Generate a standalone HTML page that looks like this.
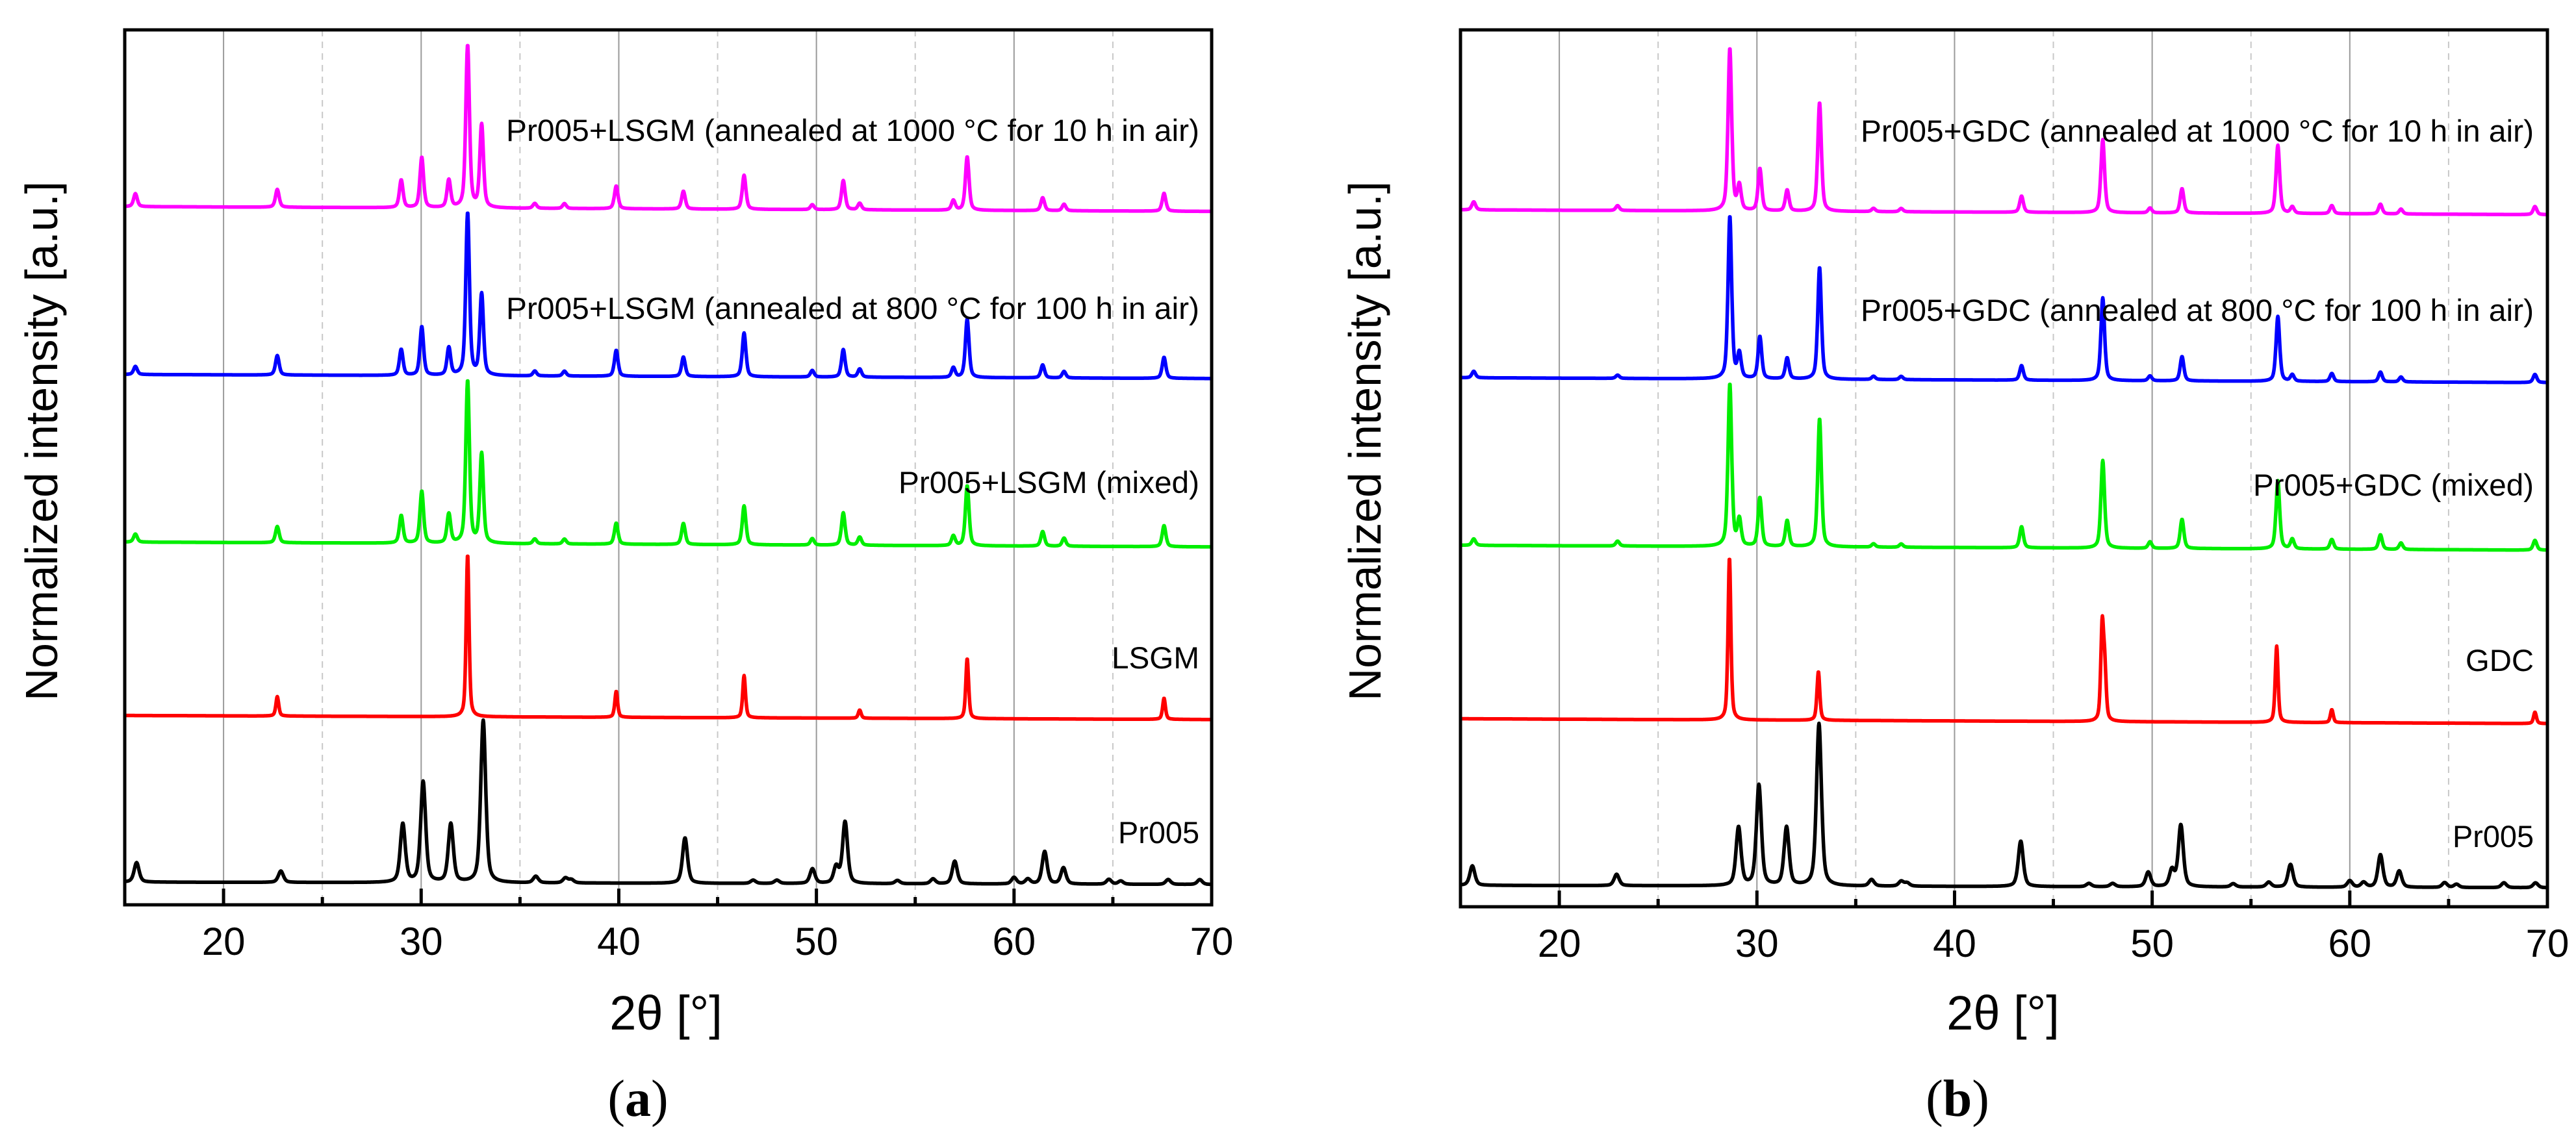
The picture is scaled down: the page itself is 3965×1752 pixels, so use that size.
<!DOCTYPE html>
<html><head><meta charset="utf-8"><style>
html,body{margin:0;padding:0;background:#fff;}
svg{display:block;font-family:"Liberation Sans",sans-serif;}
</style></head><body>
<svg id="fig" width="3965" height="1752" viewBox="0 0 3965 1752" xmlns="http://www.w3.org/2000/svg"></svg>
<script>
// ---- data ----
const xTicks = [20,30,40,50,60,70];
const xMinor = [25,35,45,55,65];
const seriesOffsets = [0, 1.026, 2.094, 3.126, 4.16];
const seriesColors = ['#000000','#ff0000','#00ee00','#0000ff','#ff00ff'];

// Pr005 (shared in both panels)
const prPos = [15.6,22.9,29.07,30.1,31.5,33.14,35.8,37.3,37.6,43.35,46.8,48.0,49.8,51.0,51.45,54.1,55.9,57.0,60.0,60.7,61.55,62.5,64.8,65.4,67.8,69.4];
const prInt = [0.12,0.07,0.36,0.62,0.36,1.0,0.04,0.03,0.02,0.28,0.02,0.02,0.09,0.1,0.38,0.02,0.03,0.14,0.04,0.03,0.2,0.1,0.03,0.02,0.03,0.03];

// panel (a)
const lsgmPos = [22.72,32.35,39.87,46.34,52.19,57.63,67.59];
const lsgmInt = [0.12,1.0,0.16,0.26,0.05,0.37,0.13];
const mixAPos = [15.54,22.72,28.99,30.03,31.40,32.35,33.06,35.75,37.25,39.87,43.27,46.34,49.79,51.36,52.19,56.93,57.63,61.45,62.53,67.59];
const mixAInt = [0.05,0.1,0.17,0.32,0.18,1.0,0.55,0.03,0.03,0.13,0.13,0.24,0.04,0.2,0.05,0.06,0.37,0.09,0.05,0.13];
const a800Int = [0.05,0.12,0.16,0.3,0.17,1.0,0.5,0.03,0.03,0.16,0.12,0.27,0.04,0.17,0.05,0.06,0.36,0.08,0.04,0.13];
const a1000Int = [0.08,0.11,0.17,0.31,0.17,1.0,0.51,0.03,0.03,0.14,0.11,0.21,0.03,0.18,0.04,0.06,0.33,0.08,0.04,0.11];

// panel (b)
const gdcPos = [28.61,33.11,47.47,47.6,56.30,59.09,69.37];
const gdcInt = [1.0,0.3,0.57,0.3,0.47,0.08,0.07];
const mixBPos = [15.67,22.95,28.63,29.11,30.15,31.53,33.17,35.9,37.3,43.39,47.50,49.89,51.51,56.36,57.09,59.09,61.55,62.59,69.37];
const mixBInt = [0.04,0.03,1.0,0.16,0.3,0.16,0.79,0.02,0.02,0.13,0.54,0.04,0.18,0.42,0.06,0.06,0.09,0.04,0.06];
const b800Int = [0.04,0.02,1.0,0.15,0.26,0.13,0.69,0.02,0.02,0.09,0.51,0.03,0.15,0.4,0.04,0.05,0.06,0.03,0.05];
const b1000Int = [0.05,0.03,1.0,0.15,0.26,0.13,0.67,0.02,0.02,0.1,0.45,0.03,0.15,0.42,0.04,0.05,0.06,0.03,0.05];

const labelsA = ['Pr005','LSGM','Pr005+LSGM (mixed)','Pr005+LSGM (annealed at 800 °C for 100 h in air)','Pr005+LSGM (annealed at 1000 °C for 10 h in air)'];
const labelsB = ['Pr005','GDC','Pr005+GDC (mixed)','Pr005+GDC (annealed at 800 °C for 100 h in air)','Pr005+GDC (annealed at 1000 °C for 10 h in air)'];

const NS='http://www.w3.org/2000/svg';
const svg=document.getElementById('fig');
function mk(tag,attrs,parent){const e=document.createElementNS(NS,tag);for(const k in attrs)e.setAttribute(k,attrs[k]);(parent||svg).appendChild(e);return e;}

function profile(x,pos,ints,w){let s=0;for(let i=0;i<pos.length;i++){const d=(x-pos[i])/(w/2);s+=ints[i]*(0.5/(1+d*d)+0.5*Math.exp(-0.693*d*d));}return s;}

function panel(cfg){
  const g=mk('g',{});
  
  
  const L=cfg.left,R=cfg.right,T=cfg.top,B=cfg.bottom;
  const xS=v=>L+(v-15)/(70-15)*(R-L);
  const yS=v=>cfg.y0-250*v;
  xMinor.forEach(t=>{const l=mk('line',{x1:xS(t),x2:xS(t),y1:T,y2:B,stroke:'#c8c8c8','stroke-width':2,'stroke-dasharray':'10,8'},g);
    });
  xTicks.forEach(t=>{if(t<70){const l=mk('line',{x1:xS(t),x2:xS(t),y1:T,y2:B,stroke:'#9a9a9a','stroke-width':2},g);
    }});
  cfg.series.forEach((s,i)=>{
    let d='';
    for(let x=15;x<=70.0001;x+=0.02){const v=seriesOffsets[i]+profile(x,s.pos,s.ints,s.w)+s.tilt*(x-15)/55;d+=(d?'L':'M')+xS(x).toFixed(1)+','+yS(v).toFixed(1);}
    const p=mk('path',{d:d,fill:'none',stroke:seriesColors[i],'stroke-width':5.5,'stroke-linejoin':'round'},g);
    
    
    const t=mk('text',{x:cfg.labelX,y:cfg.labelY[i],'text-anchor':'end','font-size':47,fill:'#000',textLength:cfg.labelW[i],lengthAdjust:'spacingAndGlyphs'},g);
    t.textContent=cfg.labels[i];
    
    
  });
  xTicks.forEach(t=>{const l=mk('line',{x1:xS(t),x2:xS(t),y1:B,y2:B-25,stroke:'#000','stroke-width':5},g);
    
    const tx=mk('text',{x:xS(t),y:B+77,'text-anchor':'middle','font-size':60,fill:'#000'},g);tx.textContent=t;
    });
  xMinor.forEach(t=>{const l=mk('line',{x1:xS(t),x2:xS(t),y1:B,y2:B-12,stroke:'#000','stroke-width':5},g);
    });
  const fr=mk('rect',{x:L,y:T,width:R-L,height:B-T,fill:'none',stroke:'#000','stroke-width':5},g);
  
  const xt=mk('text',{x:cfg.xTitleX,y:1585,'text-anchor':'middle','font-size':74,fill:'#000'},g);xt.textContent='2θ [°]';
  
  const yt=mk('text',{x:0,y:0,'text-anchor':'middle','font-size':70,fill:'#000',transform:'translate('+cfg.yTitleX+',679) rotate(-90)',textLength:800,lengthAdjust:'spacingAndGlyphs'},g);yt.textContent='Normalized intensity [a.u.]';
  
  const cap=mk('text',{x:cfg.capX,y:1718,'text-anchor':'middle','font-size':80,fill:'#000','font-family':'Liberation Serif, serif'},g);
  cap.appendChild(document.createTextNode('('));
  const b=mk('tspan',{'font-weight':'bold'},cap);b.textContent=cfg.cap;
  cap.appendChild(document.createTextNode(')'));
  
}

panel({name:'panel-a',left:192,right:1865,top:46,bottom:1393,y0:1358,labels:labelsA,
  labelX:1846,labelY:[1298,1029,759,491,217],labelW:[125,135,463,1067,1067],
  xTitleX:1025,yTitleX:88,capX:982,cap:'a',
  series:[
    {id:'pr005',pos:prPos,ints:prInt,w:0.3,tilt:-0.015},
    {id:'lsgm',pos:lsgmPos,ints:lsgmInt,w:0.17,tilt:-0.025},
    {id:'lsgm-mixed',pos:mixAPos,ints:mixAInt,w:0.22,tilt:-0.03},
    {id:'lsgm-800',pos:mixAPos,ints:a800Int,w:0.22,tilt:-0.025},
    {id:'lsgm-1000',pos:mixAPos,ints:a1000Int,w:0.22,tilt:-0.03}]});

panel({name:'panel-b',left:2248,right:3921,top:46,bottom:1396,y0:1363,labels:labelsB,
  labelX:3900,labelY:[1304,1033,763,494,218],labelW:[125,105,432,1036,1036],
  xTitleX:3083,yTitleX:2125,capX:3013,cap:'b',
  series:[
    {id:'pr005',pos:prPos,ints:prInt,w:0.3,tilt:-0.015},
    {id:'gdc',pos:gdcPos,ints:gdcInt,w:0.17,tilt:-0.03},
    {id:'gdc-mixed',pos:mixBPos,ints:mixBInt,w:0.22,tilt:-0.03},
    {id:'gdc-800',pos:mixBPos,ints:b800Int,w:0.22,tilt:-0.03},
    {id:'gdc-1000',pos:mixBPos,ints:b1000Int,w:0.22,tilt:-0.03}]});
</script>
</body></html>
